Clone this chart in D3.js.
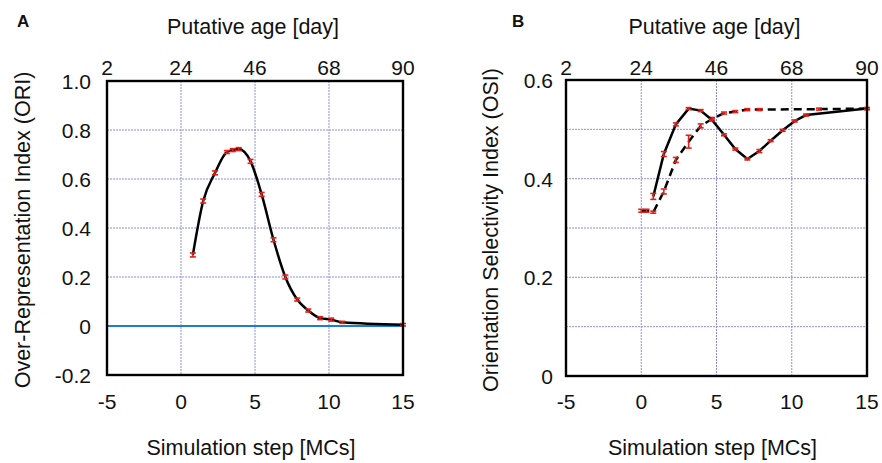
<!DOCTYPE html>
<html>
<head>
<meta charset="utf-8">
<script src="https://cdn.jsdelivr.net/npm/d3@7"></script>
<style>
  body { margin: 0; background: #fff; }
  svg text { font-family: "Liberation Sans", Arial, sans-serif; fill: #111; }
</style>
</head>
<body>
<div id="chart"></div>
<script>
// x ticks (simulation step) and top ticks (putative age)
const stepTicks = [-5, 0, 5, 10, 15];
const dayTicks = [2, 24, 46, 68, 90];

// panel A: ORI
const oriTicks = [-0.2, 0, 0.2, 0.4, 0.6, 0.8, 1.0];
const oriStep = [0.8, 1.5, 2.3, 3.1, 3.5, 3.9, 4.7, 5.45, 6.25, 7.05, 7.85, 8.6, 9.4, 10.15, 10.9, 15];
const oriVal  = [0.29, 0.51, 0.625, 0.71, 0.718, 0.722, 0.672, 0.537, 0.352, 0.2, 0.108, 0.063, 0.032, 0.026, 0.015, 0.005];
const oriErr  = [0.008, 0.008, 0.008, 0.006, 0.006, 0.006, 0.008, 0.008, 0.008, 0.008, 0.006, 0.006, 0.006, 0.006, 0.004, 0.005];

// panel B: OSI, solid and dashed series
const osiTicks = [0, 0.1, 0.2, 0.3, 0.4, 0.5, 0.6];
const osiLabels = [0, 0.2, 0.4, 0.6];
const solidStep = [0.8, 1.5, 2.3, 3.15, 3.95, 4.7, 5.5, 6.25, 7.05, 7.85, 8.6, 9.4, 10.2, 10.95, 15];
const solidVal  = [0.364, 0.45, 0.51, 0.542, 0.538, 0.519, 0.489, 0.46, 0.44, 0.456, 0.477, 0.498, 0.517, 0.529, 0.542];
const solidErr  = [0.006, 0.005, 0.003, 0.002, 0.002, 0.002, 0.002, 0.002, 0.002, 0.003, 0.002, 0.002, 0.002, 0.002, 0.002];
const dashStep = [0, 0.35, 0.8, 1.5, 2.3, 3.15, 3.95, 4.7, 5.5, 6.25, 7.05, 7.85, 11.8, 15];
const dashVal  = [0.335, 0.335, 0.332, 0.374, 0.438, 0.475, 0.507, 0.521, 0.533, 0.536, 0.54, 0.54, 0.541, 0.542];
const dashErr  = [0.003, 0.003, 0.002, 0.005, 0.005, 0.013, 0.004, 0.003, 0.002, 0.002, 0.002, 0.002, 0.002, 0.002];

const W = 882, H = 463;
const svg = d3.select("#chart").append("svg").attr("width", W).attr("height", H);

const gridColor = "#8c8ce6";
const tickSize = 21, titleSize = 21.5;

function panel(opt) {
  const x = d3.scaleLinear().domain([-5, 15]).range([opt.left, opt.right]);
  const xTop = d3.scaleLinear().domain([2, 90]).range([opt.left, opt.right]);
  const y = d3.scaleLinear().domain(opt.yDomain).range([opt.bottom, opt.top]);
  const g = svg.append("g");

  // grid
  g.append("g").selectAll("line")
    .data(stepTicks.slice(1, -1))
    .join("line")
    .attr("x1", d => x(d)).attr("x2", d => x(d))
    .attr("y1", opt.top).attr("y2", opt.bottom)
    .attr("stroke", gridColor).attr("stroke-width", 1).attr("stroke-dasharray", "2,1");
  g.append("g").selectAll("line")
    .data(opt.gridY.slice(1, -1))
    .join("line")
    .attr("x1", opt.left).attr("x2", opt.right)
    .attr("y1", d => y(d)).attr("y2", d => y(d))
    .attr("stroke", gridColor).attr("stroke-width", 1).attr("stroke-dasharray", "2,1");

  // bottom tick labels
  g.append("g").selectAll("text")
    .data(stepTicks)
    .join("text")
    .attr("x", d => x(d)).attr("y", 409)
    .attr("text-anchor", "middle").attr("font-size", tickSize)
    .text(d => d);

  // top tick labels
  g.append("g").selectAll("text")
    .data(dayTicks)
    .join("text")
    .attr("x", d => xTop(d)).attr("y", 75)
    .attr("text-anchor", "middle").attr("font-size", tickSize)
    .text(d => d);

  // y tick labels (plain hyphen for negatives, like the original)
  g.append("g").selectAll("text")
    .data(opt.yLabels)
    .join("text")
    .attr("x", opt.yLabelX).attr("y", d => y(d) + 8)
    .attr("text-anchor", "end").attr("font-size", tickSize)
    .text(d => d === 0 ? "0" : d.toFixed(1));

  // axis titles
  g.append("text")
    .attr("x", (opt.left + opt.right) / 2 - 2).attr("y", 34)
    .attr("text-anchor", "middle").attr("font-size", titleSize)
    .text("Putative age [day]");
  g.append("text")
    .attr("x", (opt.left + opt.right) / 2 - 4).attr("y", 455)
    .attr("text-anchor", "middle").attr("font-size", titleSize)
    .text("Simulation step [MCs]");
  g.append("text")
    .attr("transform", `translate(${opt.yTitleX},${(opt.top + opt.bottom) / 2 + 2}) rotate(-90)`)
    .attr("text-anchor", "middle").attr("font-size", titleSize)
    .text(opt.yTitle);
  g.append("text")
    .attr("x", opt.letterX).attr("y", 27)
    .attr("font-size", 17).attr("font-weight", "bold")
    .text(opt.letter);

  return { g, x, y };
}

function series(p, steps, vals, errs, dashed, curve) {
  const pts = steps.map((s, i) => ({ s: s, v: vals[i], e: errs[i] }));
  const line = d3.line().curve(curve).x(d => p.x(d.s)).y(d => p.y(d.v));
  p.g.append("path")
    .datum(pts)
    .attr("fill", "none")
    .attr("stroke", "#000")
    .attr("stroke-width", 2.5)
    .attr("stroke-dasharray", dashed ? "8,5" : null)
    .attr("d", line);

  // red error bars
  const eb = p.g.append("g").attr("stroke", "#e0201a").attr("stroke-width", 1.6);
  eb.selectAll("line.v")
    .data(pts).join("line").attr("class", "v")
    .attr("x1", d => p.x(d.s)).attr("x2", d => p.x(d.s))
    .attr("y1", d => p.y(d.v - d.e)).attr("y2", d => p.y(d.v + d.e));
  eb.selectAll("line.t")
    .data(pts).join("line").attr("class", "t")
    .attr("x1", d => p.x(d.s) - 3).attr("x2", d => p.x(d.s) + 3)
    .attr("y1", d => p.y(d.v + d.e)).attr("y2", d => p.y(d.v + d.e));
  eb.selectAll("line.b")
    .data(pts).join("line").attr("class", "b")
    .attr("x1", d => p.x(d.s) - 3).attr("x2", d => p.x(d.s) + 3)
    .attr("y1", d => p.y(d.v - d.e)).attr("y2", d => p.y(d.v - d.e));
}

function frame(opt) {
  svg.append("rect")
    .attr("x", opt.left).attr("y", opt.top)
    .attr("width", opt.right - opt.left).attr("height", opt.bottom - opt.top)
    .attr("fill", "none").attr("stroke", "#000").attr("stroke-width", 2.4);
}

// ---- Panel A
const optA = {
  left: 107, right: 403, top: 81, bottom: 375,
  yDomain: [-0.2, 1.0], gridY: oriTicks, yLabels: oriTicks, yLabelX: 91,
  yTitle: "Over-Representation Index (ORI)", yTitleX: 30,
  letter: "A", letterX: 17
};
const pA = panel(optA);
// zero reference line
pA.g.append("line")
  .attr("x1", optA.left).attr("x2", optA.right)
  .attr("y1", pA.y(0)).attr("y2", pA.y(0))
  .attr("stroke", "#1f7ec8").attr("stroke-width", 2.2);
series(pA, oriStep, oriVal, oriErr, false, d3.curveMonotoneX);
frame(optA);

// ---- Panel B
const optB = {
  left: 566, right: 867, top: 80, bottom: 376,
  yDomain: [0, 0.6], gridY: osiTicks, yLabels: osiLabels, yLabelX: 553,
  yTitle: "Orientation Selectivity Index (OSI)", yTitleX: 498,
  letter: "B", letterX: 512
};
const pB = panel(optB);
series(pB, dashStep, dashVal, dashErr, true, d3.curveLinear);
series(pB, solidStep, solidVal, solidErr, false, d3.curveLinear);
frame(optB);
</script>
</body>
</html>
